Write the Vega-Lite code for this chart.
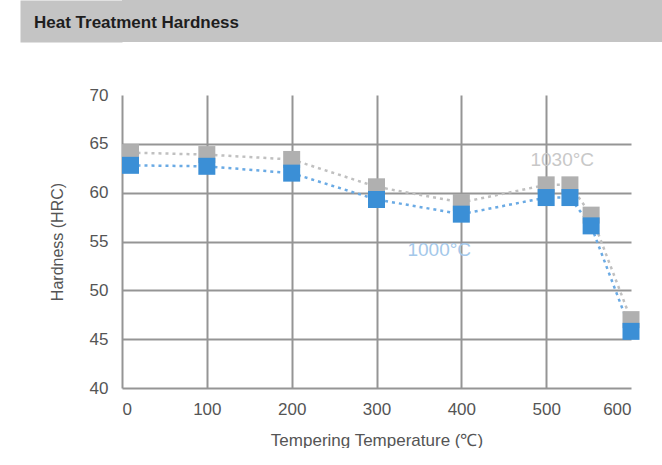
{
  "$schema": "https://vega.github.io/schema/vega-lite/v6.json",
  "background": "white",
  "padding": {"left": 34, "top": 0, "right": 0, "bottom": 0},
  "spacing": 44,
  "config": {"font": "Liberation Sans", "view": {"stroke": null}},
  "vconcat": [
    {
      "width": 540,
      "height": 42,
      "view": {"fill": "#c4c4c4", "stroke": null},
      "title": {
        "text": "Heat Treatment Hardness",
        "anchor": "start",
        "offset": -32,
        "dx": -37,
        "fontSize": 17,
        "fontWeight": "bold",
        "color": "#1e1e1e",
        "font": "Liberation Sans"
      },
      "data": {"values": [{"t": 1}]},
      "mark": {"type": "point", "opacity": 0, "size": 1},
      "encoding": {
        "y": {
          "field": "t",
          "type": "quantitative",
          "scale": {"domain": [0, 2]},
          "axis": {
            "title": null,
            "labels": false,
            "ticks": false,
            "grid": false,
            "domain": true,
            "domainColor": "#c4c4c4",
            "domainWidth": 102,
            "offset": 51
          }
        }
      }
    },
    {
      "width": 509,
      "height": 293,
      "data": {
        "values": [
          {"temp": 10, "hardness": 64.1, "series": "1030°C"},
          {"temp": 100, "hardness": 63.9, "series": "1030°C"},
          {"temp": 200, "hardness": 63.4, "series": "1030°C"},
          {"temp": 300, "hardness": 60.6, "series": "1030°C"},
          {"temp": 400, "hardness": 59.0, "series": "1030°C"},
          {"temp": 500, "hardness": 60.8, "series": "1030°C"},
          {"temp": 528, "hardness": 60.8, "series": "1030°C"},
          {"temp": 553, "hardness": 57.7, "series": "1030°C"},
          {"temp": 600, "hardness": 47.0, "series": "1030°C"},
          {"temp": 10, "hardness": 62.8, "series": "1000°C"},
          {"temp": 100, "hardness": 62.7, "series": "1000°C"},
          {"temp": 200, "hardness": 62.0, "series": "1000°C"},
          {"temp": 300, "hardness": 59.3, "series": "1000°C"},
          {"temp": 400, "hardness": 57.8, "series": "1000°C"},
          {"temp": 500, "hardness": 59.5, "series": "1000°C"},
          {"temp": 528, "hardness": 59.5, "series": "1000°C"},
          {"temp": 553, "hardness": 56.6, "series": "1000°C"},
          {"temp": 600, "hardness": 45.8, "series": "1000°C"}
        ]
      },
      "encoding": {
        "x": {
          "field": "temp",
          "type": "quantitative",
          "scale": {"domain": [0, 600], "nice": false, "zero": false},
          "axis": {
            "values": [0, 100, 200, 300, 400, 500, 600],
            "title": "Tempering Temperature (℃)",
            "titleFontSize": 17,
            "titleFontWeight": "normal",
            "titleColor": "#555555",
            "titlePadding": 15,
            "labelFontSize": 17,
            "labelColor": "#555555",
            "labelPadding": 13,
            "ticks": false,
            "domain": false,
            "grid": true,
            "gridColor": "#959595",
            "gridWidth": 2,
            "gridOpacity": {"condition": {"test": "datum.value >= 600", "value": 0}, "value": 1}
          }
        },
        "y": {
          "field": "hardness",
          "type": "quantitative",
          "scale": {"domain": [40, 70], "nice": false, "zero": false},
          "axis": {
            "values": [40, 45, 50, 55, 60, 65, 70],
            "title": "Hardness (HRC)",
            "titleFontSize": 16,
            "titleFontWeight": "normal",
            "titleColor": "#555555",
            "titlePadding": 24,
            "labelFontSize": 17,
            "labelColor": "#555555",
            "labelPadding": 14,
            "ticks": false,
            "domain": false,
            "grid": true,
            "gridColor": "#959595",
            "gridWidth": 2,
            "gridOpacity": {"condition": {"test": "datum.value >= 70", "value": 0}, "value": 1}
          }
        }
      },
      "layer": [
        {
          "mark": {"type": "line", "strokeDash": [3, 4], "strokeWidth": 2.5},
          "encoding": {
            "stroke": {
              "field": "series",
              "type": "nominal",
              "scale": {"domain": ["1030°C", "1000°C"], "range": ["#c0c0c0", "#6aaae4"]},
              "legend": null
            }
          }
        },
        {
          "mark": {"type": "point", "shape": "square", "filled": true, "size": 289, "opacity": 1},
          "encoding": {
            "fill": {
              "field": "series",
              "type": "nominal",
              "scale": {"domain": ["1030°C", "1000°C"], "range": ["#b0b0b0", "#3b8fd6"]},
              "legend": null
            }
          }
        },
        {
          "data": {
            "values": [
              {"temp": 519, "hardness": 63.3, "label": "1030°C"},
              {"temp": 374, "hardness": 54.1, "label": "1000°C"}
            ]
          },
          "mark": {"type": "text", "font": "Liberation Sans", "fontSize": 19},
          "encoding": {
            "text": {"field": "label"},
            "color": {
              "field": "label",
              "type": "nominal",
              "scale": {"domain": ["1030°C", "1000°C"], "range": ["#c8c8c8", "#a4c8ea"]},
              "legend": null
            }
          }
        }
      ]
    }
  ]
}
